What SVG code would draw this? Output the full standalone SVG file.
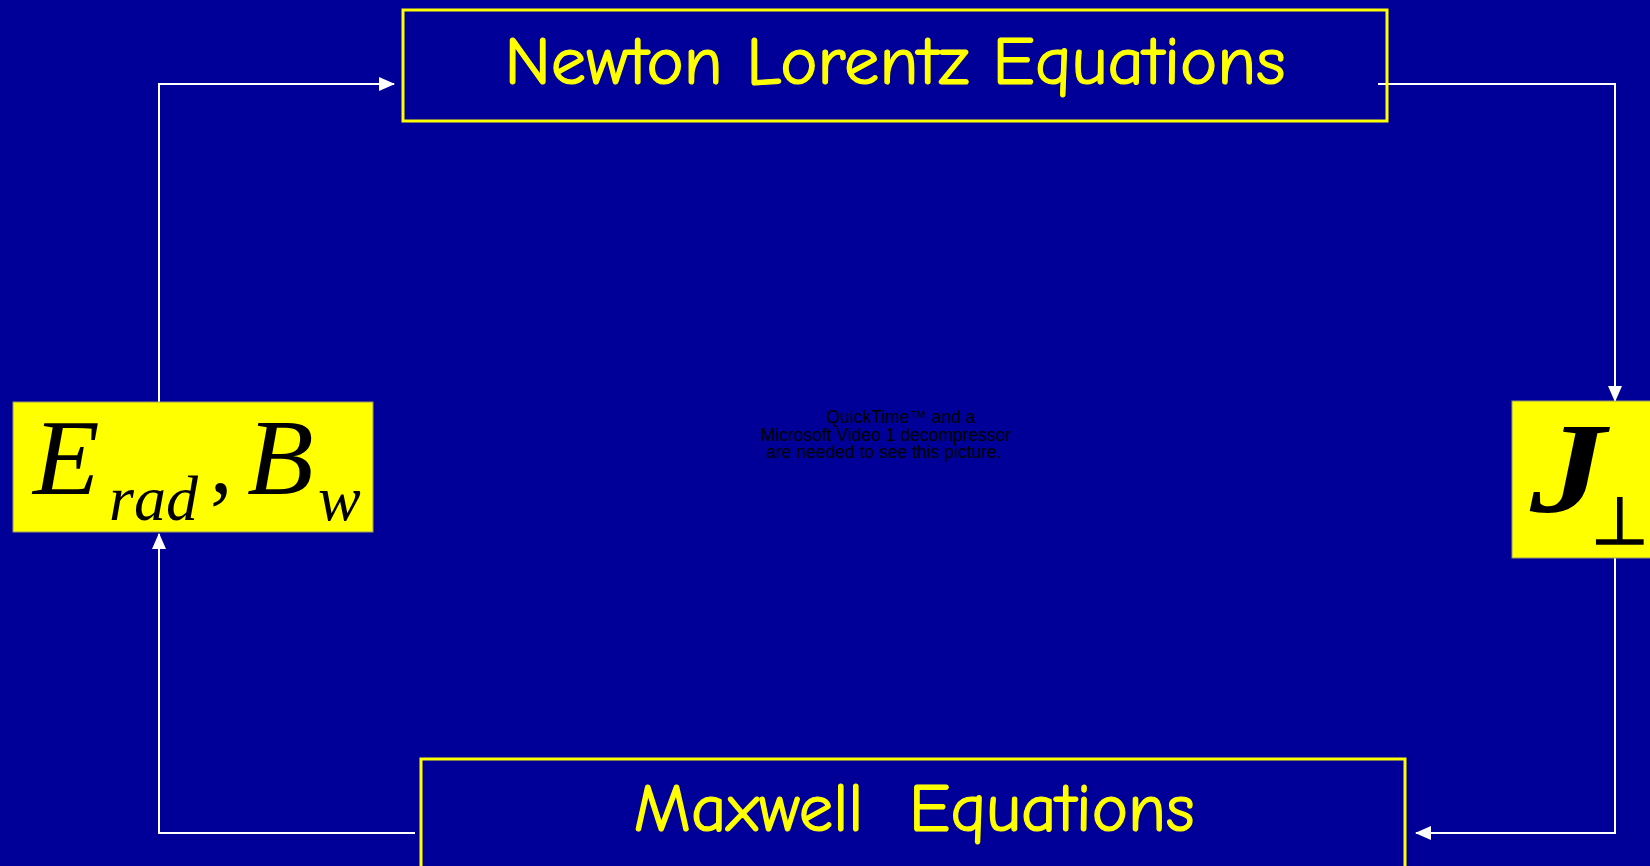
<svg xmlns="http://www.w3.org/2000/svg" width="1650" height="866" viewBox="0 0 1650 866">
<style>
.title{font-family:"Comic Sans MS","Comic Neue","Noto Sans",sans-serif;font-size:68px;fill:#FFFF00;stroke:#FFFF00;stroke-width:1.2;text-anchor:middle}
.frame{fill:none;stroke:#FFFF00;stroke-width:3}
.mbox{fill:#FFFF00;stroke:#999966;stroke-width:1}
.math{font-family:"Liberation Serif","Times New Roman",serif;font-style:italic;fill:#000}
.conn{fill:none;stroke:#FFFFFF;stroke-width:2}
.qt{font-family:"Liberation Sans",Arial,sans-serif;font-size:17.5px;fill:#000;text-anchor:middle}
</style>
<defs>
<marker id="ahb" markerWidth="16" markerHeight="16" refX="15" refY="8" orient="auto" markerUnits="userSpaceOnUse" viewBox="0 0 16 16">
<path d="M0,1 L16,8 L0,15 Z" fill="#FFFFFF"/>
</marker>
</defs>
<rect x="0" y="0" width="1650" height="866" fill="#000099"/>

<g id="video">
<text class="qt" x="901" y="423">QuickTime™ and a</text>
<text class="qt" x="886" y="441">Microsoft Video 1 decompressor</text>
<text class="qt" x="884" y="458">are needed to see this picture.</text>
</g>

<g id="connectors">
<polyline class="conn" points="159,402 159,84 394,84" marker-end="url(#ahb)"/>
<polyline class="conn" points="1378,84 1615,84 1615,401" marker-end="url(#ahb)"/>
<polyline class="conn" points="1615,557 1615,833 1416,833" marker-end="url(#ahb)"/>
<polyline class="conn" points="415,833 159,833 159,534" marker-end="url(#ahb)"/>
</g>

<g id="newton">
<rect class="frame" x="403" y="10" width="984" height="111"/>
<text class="title" x="895" y="84" textLength="781" lengthAdjust="spacingAndGlyphs">Newton Lorentz Equations</text>
</g>

<g id="maxwell">
<rect class="frame" x="421" y="759" width="984" height="120"/>
<text class="title" x="914" y="831" textLength="561" lengthAdjust="spacingAndGlyphs" xml:space="preserve">Maxwell  Equations</text>
</g>

<g id="fields">
<rect class="mbox" x="13" y="402" width="360" height="130"/>
<text class="math" x="33" y="494" font-size="109">E</text>
<text class="math" x="109" y="520" font-size="64">rad</text>
<text x="210" y="492" font-size="90" font-family="Liberation Serif,serif" fill="#000">,</text>
<text class="math" x="247" y="494" font-size="109">B</text>
<text class="math" x="318" y="520" font-size="64">w</text>
</g>

<g id="current">
<rect class="mbox" x="1512" y="401" width="145" height="157"/>
<text class="math" x="1530" y="512" font-size="130" font-weight="bold" textLength="76" lengthAdjust="spacingAndGlyphs">J</text>
<text x="1591" y="544" font-size="66" font-family="DejaVu Sans,sans-serif" fill="#000" stroke="#000" stroke-width="1.5">⊥</text>
</g>
</svg>
